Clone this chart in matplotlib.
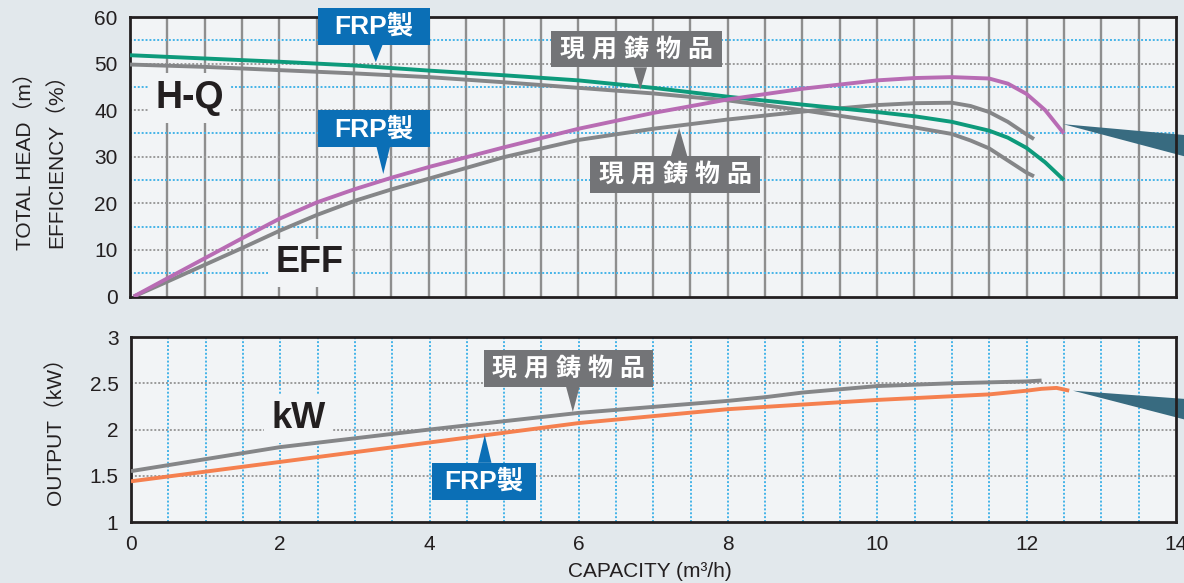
import numpy as np
import matplotlib
matplotlib.use("Agg")
import matplotlib.pyplot as plt
from matplotlib.patches import Rectangle, Polygon

plt.rcParams['font.family'] = ['Liberation Sans', 'Noto Sans CJK JP', 'DejaVu Sans']

# H-Q (total head, m)
hq_frp_x = [0, 1, 2, 3, 4, 5, 6, 7, 8, 9, 10, 10.5, 11, 11.5, 11.75, 12, 12.25, 12.5]
hq_frp_y = [51.8, 51.1, 50.4, 49.6, 48.5, 47.5, 46.4, 44.8, 42.9, 41.2, 39.6, 38.7, 37.5, 35.6, 34.1, 31.9, 28.8, 25.0]
hq_cast_x = [0, 1, 2, 3, 4, 5, 6, 7, 8, 9, 10, 10.5, 11, 11.25, 11.5, 12, 12.1]
hq_cast_y = [49.8, 49.3, 48.6, 47.9, 47.1, 46.0, 44.8, 43.6, 42.1, 40.0, 37.6, 36.3, 34.9, 33.5, 31.8, 26.6, 25.8]

# EFF (%)
eff_frp_x = [0.05, 0.5, 1, 1.5, 2, 2.5, 3, 3.5, 4, 5, 6, 7, 8, 9, 10, 10.5, 11, 11.5, 11.75, 12, 12.25, 12.5]
eff_frp_y = [0, 3.9, 8.2, 12.5, 16.7, 20.2, 23.0, 25.5, 27.8, 32.0, 36.0, 39.4, 42.3, 44.6, 46.4, 46.9, 47.1, 46.8, 45.7, 43.5, 40.0, 35.0]
eff_cast_x = [0.05, 0.5, 1, 1.5, 2, 2.5, 3, 3.5, 4, 5, 6, 7, 8, 9, 10, 10.5, 11, 11.25, 11.5, 11.75, 12, 12.1]
eff_cast_y = [0, 3.2, 6.8, 10.4, 14.1, 17.5, 20.5, 23.0, 25.3, 29.9, 33.6, 36.0, 38.0, 39.7, 41.1, 41.5, 41.6, 40.9, 39.6, 37.5, 34.8, 33.8]

# kW (output)
kw_cast_x = [0, 2, 4, 6, 8, 8.5, 9, 10, 11, 12, 12.2]
kw_cast_y = [1.55, 1.81, 2.0, 2.18, 2.31, 2.35, 2.40, 2.47, 2.50, 2.52, 2.53]
kw_frp_x = [0, 2, 4, 6, 8, 10, 11, 11.5, 12, 12.2, 12.4, 12.57]
kw_frp_y = [1.44, 1.65, 1.86, 2.07, 2.22, 2.32, 2.36, 2.38, 2.42, 2.44, 2.45, 2.42]

x_ticks = [0, 2, 4, 6, 8, 10, 12, 14]
top_ticks = [0, 10, 20, 30, 40, 50, 60]
bot_ticks = [1, 1.5, 2, 2.5, 3]
bot_labels = ['1', '1.5', '2', '2.5', '3']

fig_bg = '#e2e8ec'
ax_bg = '#f2f4f6'
green = '#0d9a7b'
magenta = '#b86cb4'
gray = '#858688'
orange = '#f5804f'
blue_box = '#0b6fb6'
gray_box = '#737477'
wedge_c = '#386b80'
grid_gray = '#9a9a9a'
grid_blue = '#45b4e8'
dark = '#231f20'

fig = plt.figure(figsize=(11.84, 5.83), dpi=100, facecolor=fig_bg)
ax1 = fig.add_axes([0.1098, 0.4914, 0.8834, 0.4794])
ax2 = fig.add_axes([0.1106, 0.1046, 0.8826, 0.3173])

for ax in (ax1, ax2):
    ax.set_facecolor(ax_bg)
    ax.set_xlim(0, 14)
    for s in ax.spines.values():
        s.set_color(dark)
        s.set_linewidth(2)
    ax.tick_params(length=0, labelsize=15, colors=dark, pad=9)

# top panel grid
for v in np.arange(0.5, 14, 0.5):
    ax1.axvline(v, color='#8e8e8e', lw=1.7, zorder=1)
for v in range(10, 60, 10):
    ax1.axhline(v, color=grid_gray, lw=1.4, ls=(0, (1, 1)), zorder=1)
for v in range(5, 60, 10):
    ax1.axhline(v, color=grid_blue, lw=1.4, ls=(0, (1, 1)), zorder=1)

# bottom panel grid
for v in np.arange(0.5, 14, 0.5):
    ax2.axvline(v, color=grid_blue, lw=1.4, ls=(0, (1, 1)), zorder=1)
for v in [1.5, 2, 2.5]:
    ax2.axhline(v, color=grid_gray, lw=1.4, ls=(0, (1, 1)), zorder=1)

ax1.set_ylim(0, 60)
ax1.set_xticks([])
ax1.set_yticks(top_ticks)
ax2.set_ylim(1, 3)
ax2.set_yticks(bot_ticks)
ax2.set_yticklabels(bot_labels)
ax2.set_xticks(x_ticks)

lw = 2.8
ax1.plot(hq_cast_x, hq_cast_y, color=gray, lw=lw, zorder=4, solid_capstyle='butt')
ax1.plot(eff_cast_x, eff_cast_y, color=gray, lw=lw, zorder=4, solid_capstyle='butt')
ax1.plot(hq_frp_x, hq_frp_y, color=green, lw=lw, zorder=4, solid_capstyle='butt')
ax1.plot(eff_frp_x, eff_frp_y, color=magenta, lw=lw, zorder=4, solid_capstyle='butt')
ax2.plot(kw_cast_x, kw_cast_y, color=gray, lw=lw, zorder=4, solid_capstyle='butt')
ax2.plot(kw_frp_x, kw_frp_y, color=orange, lw=lw, zorder=4, solid_capstyle='butt')

# curve names
tb = dict(facecolor=ax_bg, edgecolor='none', pad=5)
ax1.text(0.80, 42.6, 'H-Q', fontsize=27, fontweight='bold', color=dark,
         ha='center', va='center', bbox=tb, zorder=3)
ax1.text(2.40, 7.2, 'EFF', fontsize=26, fontweight='bold', color=dark,
         ha='center', va='center', bbox=tb, zorder=3)
ax2.text(2.24, 2.12, 'kW', fontsize=26, fontweight='bold', color=dark,
         ha='center', va='center', bbox=tb, zorder=3)


def callout(ax, x0, x1, y0, y1, text, color, tip, halfw, size):
    ax.add_patch(Rectangle((x0, y0), x1 - x0, y1 - y0, facecolor=color,
                           edgecolor='none', zorder=6, clip_on=False))
    tx, ty = tip
    base = y0 if ty < y0 else y1
    ax.add_patch(Polygon([(tx - halfw, base), (tx + halfw, base), (tx, ty)],
                         closed=True, facecolor=color, edgecolor='none',
                         zorder=6, clip_on=False))
    ax.text((x0 + x1) / 2, (y0 + y1) / 2, text, color='white', fontsize=size,
            fontweight='bold', ha='center', va='center', zorder=7,
            family=['Liberation Sans', 'Noto Sans CJK JP'])


cast_name = '現 用 鋳 物 品'
callout(ax1, 2.52, 4.02, 54.0, 61.9, 'FRP製', blue_box, (3.29, 50.3), 0.09, 19)
callout(ax1, 2.52, 4.02, 32.1, 40.0, 'FRP製', blue_box, (3.39, 26.3), 0.09, 19)
callout(ax1, 5.64, 7.93, 49.2, 56.9, cast_name, gray_box, (6.83, 44.4), 0.09, 18)
callout(ax1, 6.16, 8.43, 22.2, 30.1, cast_name, gray_box, (7.35, 36.2), 0.11, 18)
callout(ax2, 4.73, 7.0, 2.46, 2.86, cast_name, gray_box, (5.92, 2.19), 0.09, 18)
callout(ax2, 4.03, 5.43, 1.24, 1.64, 'FRP製', blue_box, (4.74, 1.94), 0.09, 19)

# pointers running off to the right
ax1.add_patch(Polygon([(12.49, 37.0), (14.3, 34.4), (14.3, 29.3)], closed=True,
                      facecolor=wedge_c, edgecolor='none', zorder=1.5, clip_on=False))
ax2.add_patch(Polygon([(12.62, 2.42), (14.3, 2.32), (14.3, 2.07)], closed=True,
                      facecolor=wedge_c, edgecolor='none', zorder=1.5, clip_on=False))

fig.text(0.0211, 0.7324, 'TOTAL HEAD（m）', rotation=90, ha='center', va='center',
         fontsize=15, color=dark)
fig.text(0.0473, 0.7324, 'EFFICIENCY（%）', rotation=90, ha='center', va='center',
         fontsize=15, color=dark)
fig.text(0.0465, 0.2693, 'OUTPUT（kW）', rotation=90, ha='center', va='center',
         fontsize=15, color=dark)
fig.text(0.549, 0.0189, 'CAPACITY (m³/h)', ha='center', va='center',
         fontsize=15, color=dark)

fig.savefig('out.png', dpi=100, facecolor=fig_bg)
